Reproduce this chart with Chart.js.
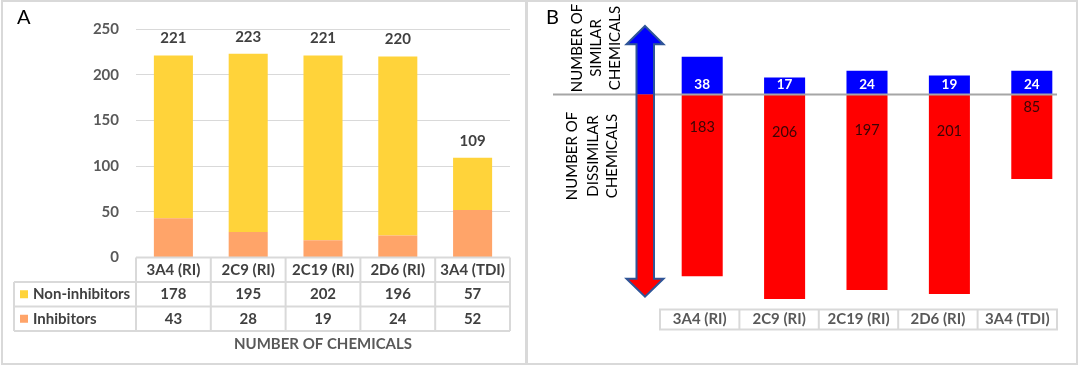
<!DOCTYPE html>
<html><head><meta charset="utf-8">
<script src="https://cdn.jsdelivr.net/npm/chart.js@4.4.1/dist/chart.umd.min.js"></script>
<style>
html,body{margin:0;padding:0;background:#fff;}
#wrap{position:relative;width:1079px;height:366px;overflow:hidden;background:#fff;}
.panel{position:absolute;border:2px solid #D9D9D9;box-sizing:border-box;}
canvas{position:absolute;left:0;top:0;}
</style></head><body>
<div id="wrap">
<div class="panel" style="left:1px;top:0px;width:526px;height:365px"></div>
<div class="panel" style="left:526px;top:0px;width:552px;height:365px"></div>
<canvas id="cA" width="1079" height="366"></canvas>
<canvas id="cB" width="1079" height="366"></canvas>
</div>
<script>
const categories = ['3A4 (RI)','2C9 (RI)','2C19 (RI)','2D6 (RI)','3A4 (TDI)'];
const nonInhibitors = [178,195,202,196,57];
const inhibitors = [43,28,19,24,52];
const totals = [221,223,221,220,109];
const similar = [38,17,24,19,24];
const dissimilar = [183,206,197,201,85];
const seriesNamesA = ['Non-inhibitors','Inhibitors'];

const FONT = 'Lato, "Open Sans", sans-serif';
const YELLOW = '#FFD33A', ORANGE = '#FFA469';
const GRID = '#D9D9D9';

const panelA = {
  id:'panelA',
  afterDatasetsDraw(chart){
    const ctx = chart.ctx, meta = chart.getDatasetMeta(1);
    ctx.save();
    ctx.font = 'bold 15px ' + FONT; ctx.fillStyle = '#404040';
    ctx.textAlign = 'center'; ctx.textBaseline = 'middle';
    meta.data.forEach((bar,i)=>{ ctx.fillText(String(totals[i]), bar.x, bar.y - 17); });
    ctx.restore();
  },
  afterDraw(chart){
    const ctx = chart.ctx, ca = chart.chartArea, xs = chart.scales.x;
    const colW = ca.width / categories.length;
    const top = ca.bottom, rowH = 24.5, leftX = 14;
    ctx.save();
    ctx.strokeStyle = GRID; ctx.lineWidth = 2;
    ctx.beginPath();
    ctx.moveTo(ca.left, top); ctx.lineTo(ca.right, top);
    for (let r=1;r<=3;r++){ ctx.moveTo(leftX, top+r*rowH); ctx.lineTo(ca.right, top+r*rowH); }
    ctx.moveTo(leftX, top+rowH); ctx.lineTo(leftX, top+3*rowH);
    for (let c=0;c<=categories.length;c++){ const x = ca.left + c*colW; ctx.moveTo(x, top); ctx.lineTo(x, top+3*rowH); }
    ctx.stroke();
    ctx.font = 'bold 15px ' + FONT; ctx.fillStyle = '#404040';
    ctx.textAlign = 'center'; ctx.textBaseline = 'middle';
    categories.forEach((c,i)=>{
      const x = xs.getPixelForValue(i);
      ctx.fillText(c, x, top + rowH*0.5);
      ctx.fillText(String(nonInhibitors[i]), x, top + rowH*1.5);
      ctx.fillText(String(inhibitors[i]), x, top + rowH*2.5);
    });
    // legend keys
    ctx.fillStyle = YELLOW; ctx.fillRect(20, top+rowH*1.5-4, 8, 8);
    ctx.fillStyle = ORANGE; ctx.fillRect(20, top+rowH*2.5-4, 8, 8);
    ctx.save();
    ctx.beginPath(); ctx.rect(leftX, top, ca.left-leftX-1, 3*rowH); ctx.clip();
    ctx.fillStyle = '#404040'; ctx.textAlign = 'left';
    ctx.fillText(seriesNamesA[0], 33, top + rowH*1.5);
    ctx.fillText(seriesNamesA[1], 33, top + rowH*2.5);
    ctx.restore();
    ctx.fillStyle = '#595959'; ctx.textAlign = 'center';
    ctx.fillText('NUMBER OF CHEMICALS', (ca.left+ca.right)/2, 344.5);
    ctx.fillStyle = '#000'; ctx.font = '20px ' + FONT; ctx.textAlign = 'left'; ctx.textBaseline = 'alphabetic';
    ctx.fillText('A', 17, 24);
    ctx.restore();
  }
};

new Chart(document.getElementById('cA'), {
  type:'bar',
  data:{labels:categories, datasets:[
    {label:seriesNamesA[1], data:inhibitors, backgroundColor:ORANGE, stack:'s', barPercentage:0.522, categoryPercentage:1},
    {label:seriesNamesA[0], data:nonInhibitors, backgroundColor:YELLOW, stack:'s', barPercentage:0.522, categoryPercentage:1}
  ]},
  options:{
    responsive:false, animation:false, devicePixelRatio:1,
    layout:{padding:{left:60, right:1079-510, top:29, bottom:366-257.5}},
    plugins:{legend:{display:false}, tooltip:{enabled:false}},
    scales:{
      x:{display:false, stacked:true},
      y:{stacked:true, min:0, max:250,
         ticks:{stepSize:50, padding:17, color:'#595959', font:{family:FONT, size:15, weight:'bold'}},
         grid:{color:GRID, drawTicks:false},
         border:{display:false},
         afterFit(a){ a.width = 76; }
      }
    }
  },
  plugins:[panelA]
});

const panelB = {
  id:'panelB',
  afterDatasetsDraw(chart){
    const ctx = chart.ctx, ys = chart.scales.y;
    const zero = ys.getPixelForValue(0);
    ctx.save();
    ctx.strokeStyle = '#A6A6A6'; ctx.lineWidth = 2;
    ctx.beginPath(); ctx.moveTo(553, zero); ctx.lineTo(1057, zero); ctx.stroke();
    ctx.textAlign = 'center'; ctx.textBaseline = 'middle';
    ctx.font = 'bold 13.5px ' + FONT; ctx.fillStyle = '#FFFFFF';
    chart.getDatasetMeta(0).data.forEach((bar,i)=>{ ctx.fillText(String(similar[i]), bar.x, zero - 10); });
    ctx.font = '14.5px ' + FONT; ctx.fillStyle = '#3a0505';
    chart.getDatasetMeta(1).data.forEach((bar,i)=>{
      const h = bar.y - zero;
      ctx.fillText(String(dissimilar[i]), bar.x, zero + 0.205*h - 4);
    });
    ctx.restore();
  },
  afterDraw(chart){
    const ctx = chart.ctx, ys = chart.scales.y;
    const zero = ys.getPixelForValue(0);
    ctx.save();
    const tl = 660, tr = 1057, tt = 309.5, tb = 329.5, cw = (tr-tl)/categories.length;
    ctx.strokeStyle = GRID; ctx.lineWidth = 2;
    ctx.strokeRect(tl, tt, tr-tl, tb-tt);
    ctx.beginPath();
    for (let c=1;c<categories.length;c++){ ctx.moveTo(tl+c*cw, tt); ctx.lineTo(tl+c*cw, tb); }
    ctx.stroke();
    ctx.font = 'bold 15px ' + FONT; ctx.fillStyle = '#595959';
    ctx.textAlign = 'center'; ctx.textBaseline = 'middle';
    categories.forEach((c,i)=>ctx.fillText(c, tl + (i+0.5)*cw, (tt+tb)/2));
    const cx = 645, sl = 636.5, sr = 654, hl = 626.5, hr = 663.5;
    const tipT = 26, baseT = 44.3, baseB = 278.7, tipB = 296.7;
    const path = new Path2D();
    path.moveTo(cx, tipT); path.lineTo(hr, baseT); path.lineTo(sr, baseT); path.lineTo(sr, baseB);
    path.lineTo(hr, baseB); path.lineTo(cx, tipB); path.lineTo(hl, baseB); path.lineTo(sl, baseB);
    path.lineTo(sl, baseT); path.lineTo(hl, baseT); path.closePath();
    ctx.save(); ctx.clip(path);
    ctx.fillStyle = '#0000FF'; ctx.fillRect(hl-2, tipT-2, hr-hl+4, zero-tipT+2);
    ctx.fillStyle = '#FF0000'; ctx.fillRect(hl-2, zero, hr-hl+4, tipB-zero+2);
    ctx.restore();
    ctx.strokeStyle = '#2F5597'; ctx.lineWidth = 2; ctx.lineJoin = 'miter';
    ctx.stroke(path);
    ctx.fillStyle = '#000'; ctx.font = '15px ' + FONT;
    const rot = (lines, xsArr, yc) => lines.forEach((t,i)=>{
      ctx.save(); ctx.translate(xsArr[i], yc); ctx.rotate(-Math.PI/2); ctx.fillText(t, 0, 0); ctx.restore();
    });
    rot(['NUMBER OF','SIMILAR','CHEMICALS'], [577, 596, 615], 48);
    rot(['NUMBER OF','DISSIMILAR','CHEMICALS'], [572, 593, 612.5], 156);
    ctx.font = '20px ' + FONT; ctx.textAlign = 'left'; ctx.textBaseline = 'alphabetic';
    ctx.fillText('B', 546, 24);
    ctx.restore();
  }
};

new Chart(document.getElementById('cB'), {
  type:'bar',
  data:{labels:categories, datasets:[
    {label:'Similar', data:similar, backgroundColor:'#0000FF', stack:'s', barPercentage:0.498, categoryPercentage:1},
    {label:'Dissimilar', data:dissimilar.map(v=>-v), backgroundColor:'#FF0000', stack:'s', barPercentage:0.498, categoryPercentage:1}
  ]},
  options:{
    responsive:false, animation:false, devicePixelRatio:1,
    layout:{padding:{left:661, right:6, top:20, bottom:61}},
    plugins:{legend:{display:false}, tooltip:{enabled:false}},
    scales:{
      x:{display:false, stacked:true},
      y:{display:false, stacked:true, min:-212, max:75}
    }
  },
  plugins:[panelB]
});
</script>
</body></html>
